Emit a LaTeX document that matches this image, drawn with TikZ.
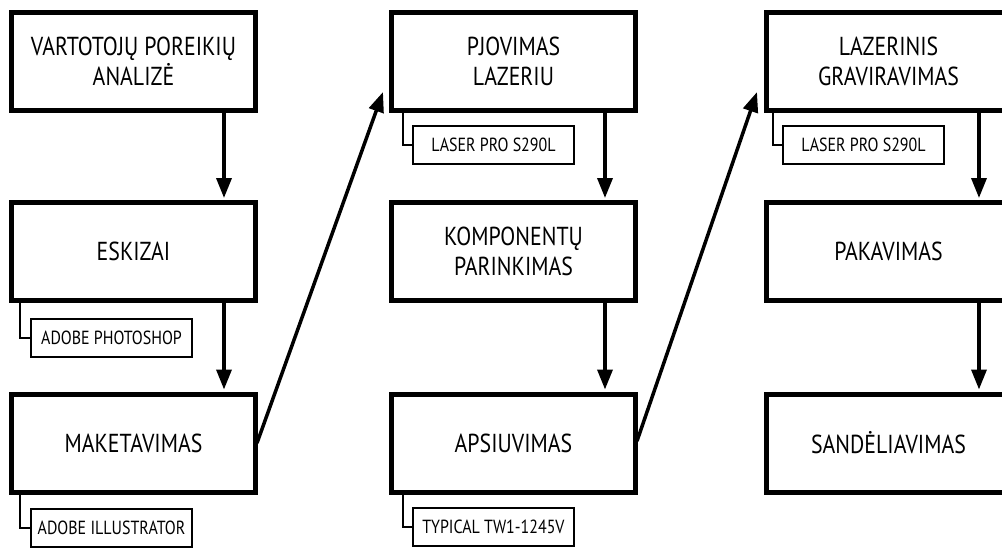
\documentclass[tikz,border=0pt]{standalone}
\usepackage{fontspec}
\setmainfont{PT Sans}[FakeStretch=0.84]
\usetikzlibrary{arrows.meta,calc}
\begin{document}
\begin{tikzpicture}[x=1pt,y=-1pt,
 mainbox/.style={draw,line width=5pt,minimum width=244pt,minimum height=98pt,inner sep=0pt,align=center,font=\fontsize{26}{30}\selectfont},
 subbox/.style={draw,line width=2pt,minimum width=161pt,minimum height=38pt,inner sep=0pt,font=\fontsize{19}{20}\selectfont},
 arr/.style={line width=3.5pt,-{Triangle[length=20pt,width=15pt]}},
 link/.style={line width=2pt}]
\useasboundingbox[fill=white] (0,0) rectangle (1002,547);
% column 1
\node[mainbox] (a1) at (133.5,61.5) {VARTOTOJŲ POREIKIŲ\\ANALIZĖ};
\node[mainbox] (a2) at (133.5,251.5) {ESKIZAI};
\node[mainbox] (a3) at (133.5,443) {MAKETAVIMAS};
\node[subbox] (s2) at (111.5,337.5) {ADOBE PHOTOSHOP};
\node[subbox] (s3) at (111.5,527.5) {ADOBE ILLUSTRATOR};
% column 2
\node[mainbox] (b1) at (513.5,61.5) {PJOVIMAS\\LAZERIU};
\node[mainbox] (b2) at (513.5,251.5) {KOMPONENTŲ\\PARINKIMAS};
\node[mainbox] (b3) at (513.5,443) {APSIUVIMAS};
\node[subbox] (t1) at (493.5,145) {LASER PRO S290L};
\node[subbox] (t3) at (493.5,527) {TYPICAL TW1-1245V};
% column 3
\node[mainbox] (c1) at (888.5,61.5) {LAZERINIS\\GRAVIRAVIMAS};
\node[mainbox] (c2) at (888.5,251.5) {PAKAVIMAS};
\node[mainbox] (c3) at (888.5,443) {SANDĖLIAVIMAS};
\node[subbox] (u1) at (863.5,145) {LASER PRO S290L};
% vertical arrows
\draw[arr,shorten >=2pt] ($(a1.south west)+(215,0)$) -- ($(a2.north west)+(215,0)$);
\draw[arr,shorten >=2pt] ($(a2.south west)+(215,0)$) -- ($(a3.north west)+(215,0)$);
\draw[arr,shorten >=2pt] ($(b1.south west)+(216,0)$) -- ($(b2.north west)+(216,0)$);
\draw[arr,shorten >=2pt] ($(b2.south west)+(216,0)$) -- ($(b3.north west)+(216,0)$);
\draw[arr,shorten >=2pt] ($(c1.south west)+(215,0)$) -- ($(c2.north west)+(215,0)$);
\draw[arr,shorten >=2pt] ($(c2.south west)+(215,0)$) -- ($(c3.north west)+(215,0)$);
% diagonal arrows
\coordinate (d1) at (383,92);
\coordinate (d2) at (757,92);
\draw[arr] ($(a3.east)+(-1,0)$) -- (d1);
\draw[arr] ($(b3.east)+(-1,-2)$) -- (d2);
% links to tool boxes
\draw[link] ($(a2.south west)+(11,-2)$) |- (s2.west);
\draw[link] ($(a3.south west)+(11,-2)$) |- (s3.west);
\draw[link] ($(b1.south west)+(14,-2)$) |- (t1.west);
\draw[link] ($(b3.south west)+(14,-2)$) |- (t3.west);
\draw[link] ($(c1.south west)+(9,-2)$) |- (u1.west);
\end{tikzpicture}
\end{document}
